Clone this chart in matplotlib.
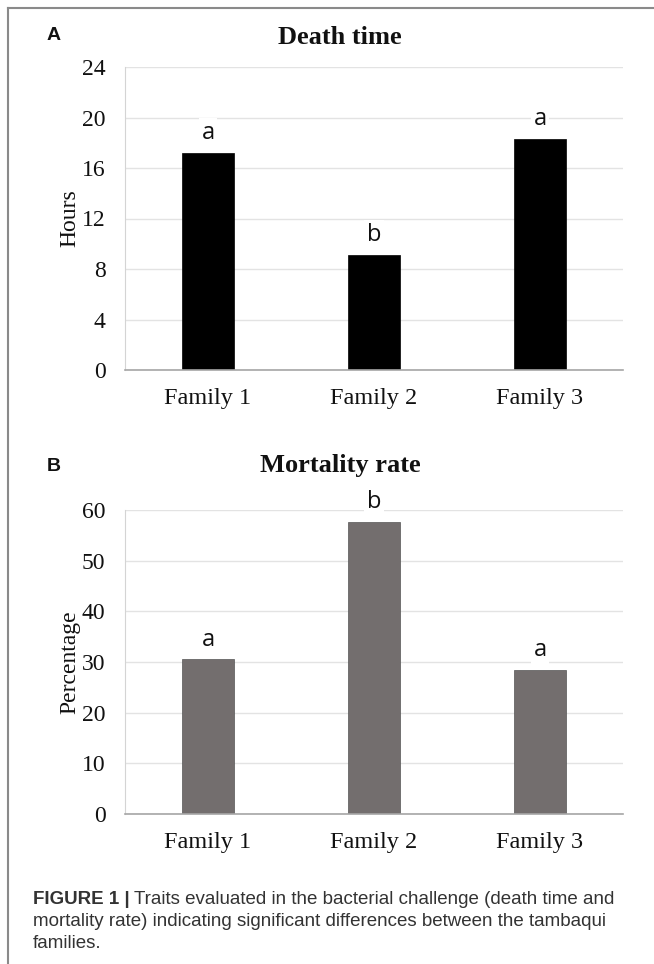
import matplotlib
matplotlib.use("Agg")
import matplotlib.pyplot as plt
from matplotlib.lines import Line2D

categories = ["Family 1", "Family 2", "Family 3"]
death_time = [17.2, 9.1, 18.3]
death_letters = ["a", "b", "a"]
mortality = [30.5, 57.6, 28.5]
mortality_letters = ["a", "b", "a"]
death_ticks = [0, 4, 8, 12, 16, 20, 24]
mort_ticks = [0, 10, 20, 30, 40, 50, 60]

W, H = 654, 964
fig = plt.figure(figsize=(W / 100, H / 100), dpi=100)

serif = ["Liberation Serif", "DejaVu Serif"]
sans = ["Liberation Sans", "DejaVu Sans"]

def fx(px):
    return px / W

def fy(py):
    return 1 - py / H

def panel(top, bottom, values, letters, ticks, color, ylabel, title, title_y, letter, letter_y):
    ax = fig.add_axes([fx(125), fy(bottom), fx(623) - fx(125), fy(top) - fy(bottom)])
    x = list(range(len(categories)))
    ax.bar(x, values, width=0.315, color=color, zorder=3,
           edgecolor="#555555" if color != "black" else "black", linewidth=0.5)
    ax.set_xlim(-0.5, 2.5)
    ax.set_ylim(ticks[0], ticks[-1])
    ax.set_yticks(ticks)
    ax.set_yticklabels([str(t) for t in ticks], fontfamily=serif, fontsize=17, color="#111111")
    ax.set_xticks(x)
    ax.set_xticklabels(categories, fontfamily=serif, fontsize=17.5, color="#111111")
    ax.tick_params(axis="both", length=0)
    ax.tick_params(axis="y", pad=14)
    ax.tick_params(axis="x", pad=13)
    ax.yaxis.grid(True, color="#e3e3e3", linewidth=1.0, zorder=0)
    ax.set_axisbelow(True)
    for s in ["top", "right"]:
        ax.spines[s].set_visible(False)
    ax.spines["left"].set_color("#d4d4d4")
    ax.spines["bottom"].set_color("#a6a6a6")
    ax.spines["bottom"].set_linewidth(1.2)
    ax.spines["bottom"].set_zorder(4)
    ax.set_ylabel(ylabel, fontfamily=serif, fontsize=17, color="#111111", labelpad=1)
    span = ticks[-1] - ticks[0]
    for xi, v, l in zip(x, values, letters):
        ax.text(xi, v + span * 0.026, l, ha="center", va="bottom",
                fontfamily=["Open Sans", "DejaVu Sans"], fontsize=17, color="#111111",
                zorder=5, clip_on=False,
                bbox=dict(facecolor="white", edgecolor="none", pad=2))
    fig.text(fx(340), fy(title_y), title, ha="center", va="center",
             fontfamily=serif, fontweight="bold", fontsize=19, color="#111111")
    fig.text(fx(47), fy(letter_y), letter, ha="left", va="center",
             fontfamily=sans, fontweight="bold", fontsize=14, color="#111111")
    return ax

panel(67, 370, death_time, death_letters, death_ticks, "black", "Hours",
      "Death time", 37, "A", 35)
panel(510, 814, mortality, mortality_letters, mort_ticks, "#736e6e", "Percentage",
      "Mortality rate", 465, "B", 466)

# frame lines
fig.add_artist(Line2D([fx(8), fx(8)], [fy(8), 0], color="#8a8a8a", linewidth=1.5))
fig.add_artist(Line2D([fx(8), 1], [fy(8), fy(8)], color="#8a8a8a", linewidth=1.5))

# caption
cap_font = ["Liberation Sans Narrow", "Liberation Sans"]
cap_color = "#333333"
fig.canvas.draw()
renderer = fig.canvas.get_renderer()
t_bold = fig.text(fx(33), fy(900), "FIGURE 1 |", ha="left", va="center",
                  fontfamily=sans, fontweight="bold", fontsize=13.5, color=cap_color)
bb = t_bold.get_window_extent(renderer=renderer)
fig.text(bb.x1 / W + fx(4), fy(900), "Traits evaluated in the bacterial challenge (death time and",
         ha="left", va="center", fontfamily=cap_font, fontsize=13.5, color=cap_color)
fig.text(fx(33), fy(922), "mortality rate) indicating significant differences between the tambaqui",
         ha="left", va="center", fontfamily=cap_font, fontsize=13.5, color=cap_color)
fig.text(fx(33), fy(944), "families.", ha="left", va="center",
         fontfamily=cap_font, fontsize=13.5, color=cap_color)

fig.savefig("out.png", dpi=100)
